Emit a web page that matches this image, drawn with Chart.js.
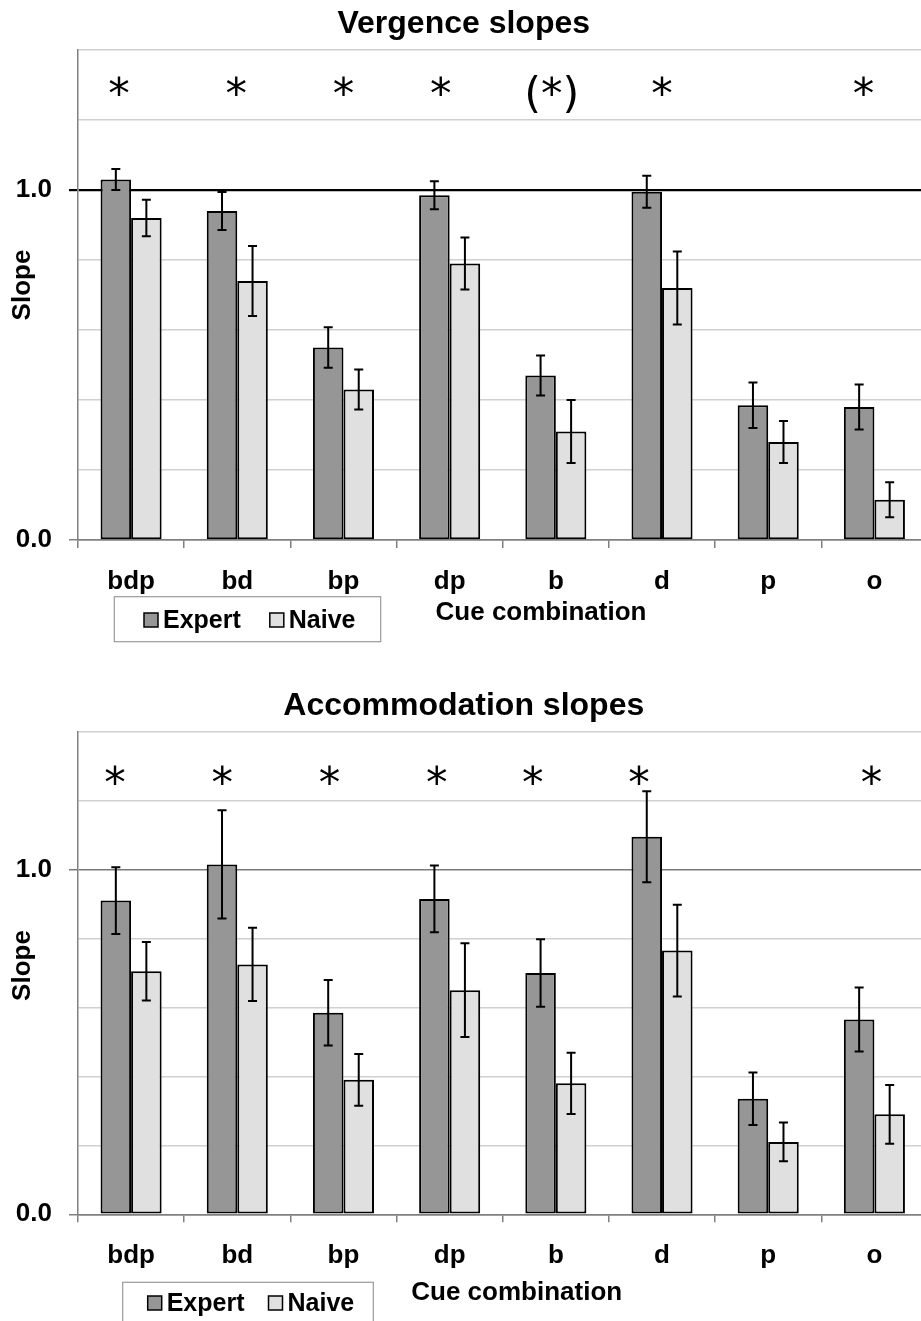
<!DOCTYPE html>
<html>
<head>
<meta charset="utf-8">
<title>Vergence and accommodation slopes</title>
<script src="https://cdn.jsdelivr.net/npm/chart.js@4.4.1/dist/chart.umd.min.js"></script>
<style>
  html, body { margin: 0; padding: 0; background: #fff; overflow: hidden; width: 921px; height: 1321px; }
  canvas { position: absolute; left: 0; }
  #vergence { top: 0; }
  #accommodation { top: 660px; }
</style>
</head>
<body>
<canvas id="vergence" width="935" height="660"></canvas>
<canvas id="accommodation" width="935" height="661"></canvas>
<script>
// ---- data ----
const cues = ['bdp', 'bd', 'bp', 'dp', 'b', 'd', 'p', 'o'];
const groupNames = ['Expert', 'Naive'];

const vergenceExpert    = [1.03, 0.94, 0.55, 0.985, 0.47, 0.995, 0.385, 0.38];
const vergenceExpertErr = [0.03, 0.054, 0.058, 0.04, 0.057, 0.046, 0.065, 0.064];
const vergenceNaive     = [0.92, 0.74, 0.43, 0.79, 0.31, 0.72, 0.28, 0.115];
const vergenceNaiveErr  = [0.052, 0.10, 0.057, 0.074, 0.09, 0.104, 0.06, 0.05];
const vergenceSig       = ['*', '*', '*', '*', '(*)', '*', '', '*'];

const accomExpert    = [0.91, 1.015, 0.585, 0.915, 0.70, 1.095, 0.335, 0.565];
const accomExpertErr = [0.097, 0.157, 0.095, 0.097, 0.098, 0.132, 0.076, 0.093];
const accomNaive     = [0.705, 0.725, 0.39, 0.65, 0.38, 0.765, 0.21, 0.29];
const accomNaiveErr  = [0.085, 0.106, 0.075, 0.136, 0.089, 0.133, 0.056, 0.085];
const accomSig       = ['*', '*', '*', '*', '*', '*', '', '*'];

const labelledTicks = [0, 1];
const yMin = 0, yMax = 1.4, yStep = 0.2;

// ---- styling ----
const FONT = '"Liberation Sans", Arial, Helvetica, sans-serif';
const MARK_FONT = '"DejaVu Sans", sans-serif';
const groupColors = ['#969696', '#e0e0e0'];
const axisGrey = '#808080';
const gridGrey = '#d0d0d0';

const near = (a, b) => Math.abs(a - b) < 1e-6;

// error bars, significance markers, axis captions and the boxed legend
const figureExtras = {
  id: 'figureExtras',
  afterDatasetsDraw(chart) {
    const ctx = chart.ctx, y = chart.scales.y;
    ctx.save();
    ctx.strokeStyle = '#000';
    ctx.lineWidth = 2;
    chart.data.datasets.forEach((ds, di) => {
      chart.getDatasetMeta(di).data.forEach((bar, i) => {
        const v = ds.data[i], e = ds.errors[i];
        const top = y.getPixelForValue(v + e), bot = y.getPixelForValue(v - e);
        const x = bar.x, cap = 4.5;
        ctx.beginPath();
        ctx.moveTo(x, top); ctx.lineTo(x, bot);
        ctx.moveTo(x - cap, top); ctx.lineTo(x + cap, top);
        ctx.moveTo(x - cap, bot); ctx.lineTo(x + cap, bot);
        ctx.stroke();
      });
    });
    ctx.restore();
  },
  afterDraw(chart, args, o) {
    const ctx = chart.ctx, xs = chart.scales.x;
    ctx.save();
    ctx.fillStyle = '#000';

    // significance markers
    ctx.font = `normal 43px ${MARK_FONT}`;
    ctx.textAlign = 'center';
    ctx.textBaseline = 'alphabetic';
    o.marks.forEach((m, i) => {
      if (m) ctx.fillText(m, xs.getPixelForValue(i) + o.markNudge[i], o.markBaseline);
    });

    // x caption
    ctx.font = `bold 26px ${FONT}`;
    ctx.fillText(o.xCaption.text, o.xCaption.x, o.xCaption.baseline);

    // y caption
    ctx.save();
    ctx.translate(o.yCaption.x, o.yCaption.y);
    ctx.rotate(-Math.PI / 2);
    ctx.textBaseline = 'middle';
    ctx.fillText(o.yCaption.text, 0, 0);
    ctx.restore();

    // legend box
    const b = o.legendBox;
    ctx.fillStyle = '#fff';
    ctx.fillRect(b.x, b.y, b.w, b.h);
    ctx.strokeStyle = '#9a9a9a';
    ctx.lineWidth = 1.2;
    ctx.strokeRect(b.x, b.y, b.w, b.h);
    ctx.font = `bold 25px ${FONT}`;
    ctx.textAlign = 'left';
    ctx.textBaseline = 'middle';
    let x = b.x + b.indent;
    const cy = b.y + b.itemY;
    chart.data.datasets.forEach(ds => {
      ctx.fillStyle = ds.backgroundColor;
      ctx.fillRect(x, cy - 7, 14, 14);
      ctx.strokeStyle = '#000';
      ctx.lineWidth = 1.5;
      ctx.strokeRect(x, cy - 7, 14, 14);
      ctx.fillStyle = '#000';
      ctx.fillText(ds.label, x + 19, cy + 1);
      x += 19 + ctx.measureText(ds.label).width + b.gap;
    });
    ctx.restore();
  }
};

function buildChart(canvasId, cfg) {
  const datasets = [
    { label: groupNames[0], data: cfg.expert, errors: cfg.expertErr, backgroundColor: groupColors[0] },
    { label: groupNames[1], data: cfg.naive, errors: cfg.naiveErr, backgroundColor: groupColors[1] }
  ].map(d => Object.assign(d, {
    borderColor: '#000', borderWidth: 2, borderSkipped: false,
    barPercentage: 1, categoryPercentage: 0.575
  }));

  return new Chart(document.getElementById(canvasId), {
    type: 'bar',
    data: { labels: cues, datasets },
    plugins: [figureExtras],
    options: {
      responsive: false,
      animation: false,
      devicePixelRatio: 1,
      layout: { padding: { left: 0, right: 7.5, top: 0, bottom: 0 } },
      plugins: {
        legend: { display: false },
        tooltip: { enabled: false },
        title: {
          display: true,
          text: cfg.title,
          color: '#000',
          font: { family: FONT, size: 32, weight: 'bold', lineHeight: 1.2 },
          padding: cfg.titlePadding
        },
        figureExtras: cfg.extras
      },
      scales: {
        x: {
          afterFit(s) { s.height = cfg.xAxisHeight; },
          ticks: { color: '#000', padding: 18, font: { family: FONT, size: 26, weight: 'bold' } },
          grid: { offset: true, drawOnChartArea: false, drawTicks: true, tickLength: 8, color: axisGrey, lineWidth: 1.5 },
          border: { color: axisGrey, width: 1.5 }
        },
        y: {
          min: yMin, max: yMax,
          afterFit(s) { s.width = 78; },
          ticks: {
            stepSize: yStep,
            color: '#000',
            padding: 17,
            font: { family: FONT, size: 26, weight: 'bold' },
            callback: v => labelledTicks.some(t => near(v, t)) ? Number(v).toFixed(1) : ''
          },
          grid: {
            tickLength: 9,
            color: c => near(c.tick.value, 1) ? cfg.unitColor : (near(c.tick.value, 0) ? axisGrey : gridGrey),
            lineWidth: c => near(c.tick.value, 1) ? cfg.unitWidth : 1.5,
            tickColor: c => near(c.tick.value, 1) ? cfg.unitColor : (near(c.tick.value, 0) ? axisGrey : 'rgba(0,0,0,0)')
          },
          border: { color: axisGrey, width: 1.5 }
        }
      }
    }
  });
}

buildChart('vergence', {
  title: 'Vergence slopes',
  expert: vergenceExpert, expertErr: vergenceExpertErr,
  naive: vergenceNaive, naiveErr: vergenceNaiveErr,
  titlePadding: { top: 4.8, bottom: 6.8 },
  xAxisHeight: 120,
  unitColor: '#000', unitWidth: 2.2,
  extras: {
    marks: vergenceSig,
    markNudge: [-12, -1, 0, -9, -4, 0, 0, -11],
    markBaseline: 108,
    xCaption: { text: 'Cue combination', x: 541, baseline: 620 },
    yCaption: { text: 'Slope', x: 23, y: 285 },
    legendBox: { x: 114.3, y: 596.7, w: 266.4, h: 45, indent: 29.7, itemY: 23.3, gap: 29 }
  }
});

buildChart('accommodation', {
  title: 'Accommodation slopes',
  expert: accomExpert, expertErr: accomExpertErr,
  naive: accomNaive, naiveErr: accomNaiveErr,
  titlePadding: { top: 26.8, bottom: 6.5 },
  xAxisHeight: 106.7,
  unitColor: '#7a7a7a', unitWidth: 1.5,
  extras: {
    marks: accomSig,
    markNudge: [-16, -15, -14, -13, -23, -23, 0, -3],
    markBaseline: 137,
    xCaption: { text: 'Cue combination', x: 516.7, baseline: 640 },
    yCaption: { text: 'Slope', x: 23, y: 305.5 },
    legendBox: { x: 122.7, y: 622.3, w: 250.6, h: 45, indent: 25, itemY: 20.7, gap: 24 }
  }
});
</script>
</body>
</html>
